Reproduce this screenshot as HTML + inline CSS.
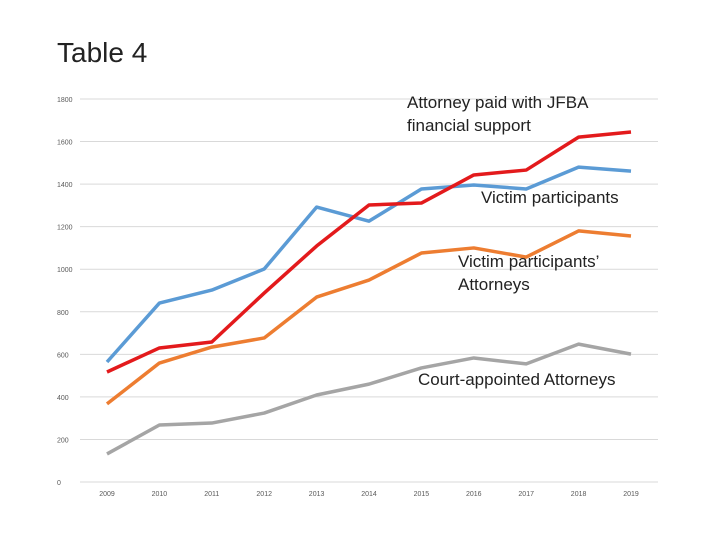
<!DOCTYPE html>
<html><head><meta charset="utf-8"><style>
body{margin:0;background:#fff;width:720px;height:540px;overflow:hidden;font-family:"Liberation Sans",sans-serif}
svg text{font-family:"Liberation Sans",sans-serif}
.lbl{position:absolute;font-size:17px;color:#222;line-height:23px}
</style></head><body>
<svg id="chart" width="720" height="540">
<text x="57" y="62" font-size="28" fill="#222">Table 4</text>
<g id="grid"></g><g id="lines"></g><g id="labels"></g>
</svg>
<script>
const years=["2009","2010","2011","2012","2013","2014","2015","2016","2017","2018","2019"];
const yTicks=[0,200,400,600,800,1000,1200,1400,1600,1800];
const victims=[564,841,902,1001,1292,1226,1377,1396,1377,1480,1461];
const jfba=[517,630,658,888,1109,1302,1311,1443,1466,1621,1645];
const victimAttorneys=[367,559,634,677,869,949,1076,1100,1057,1180,1156];
const courtAppointed=[132,268,277,324,409,460,536,583,555,648,601];
const NS="http://www.w3.org/2000/svg";
const x0=107,x1=631,y0=482,y1=99;
const xs=i=>x0+(x1-x0)*i/(years.length-1);
const ys=v=>y0-(y0-y1)*v/1800;
function mk(t,a,p){const e=document.createElementNS(NS,t);for(const k in a)e.setAttribute(k,a[k]);p.appendChild(e);return e;}
const grid=document.getElementById('grid');
yTicks.forEach(v=>{
 const l=mk('line',{x1:80,x2:658,y1:ys(v),y2:ys(v),stroke:'#d9d9d9','stroke-width':1},grid);
 
 
 const t=mk('text',{x:57,y:ys(v)+3,'font-size':7,fill:'#595959'},grid);t.textContent=v;
 
 
});
years.forEach((y,i)=>{
 const t=mk('text',{x:xs(i),y:496,'font-size':7,fill:'#595959','text-anchor':'middle'},grid);t.textContent=y;
 
 
});
const series=[[courtAppointed,'#a5a5a5','court-appointed-line'],[victimAttorneys,'#ed7d31','victim-attorneys-line'],[victims,'#5b9bd5','victim-participants-line'],[jfba,'#e31a1c','jfba-line']];
const lines=document.getElementById('lines');
series.forEach(s=>{
 const p=mk('polyline',{points:s[0].map((v,i)=>xs(i)+','+ys(v)).join(' '),fill:'none',stroke:s[1],'stroke-width':3.5,'stroke-linejoin':'round'},lines);
 
 
});
</script>
<div class="lbl" style="left:407px;top:91px">Attorney paid with JFBA<br>financial support</div>
<div class="lbl" style="left:481px;top:186px">Victim participants</div>
<div class="lbl" style="left:458px;top:250px">Victim participants’<br>Attorneys</div>
<div class="lbl" style="left:418px;top:368px">Court-appointed Attorneys</div>
</body></html>
